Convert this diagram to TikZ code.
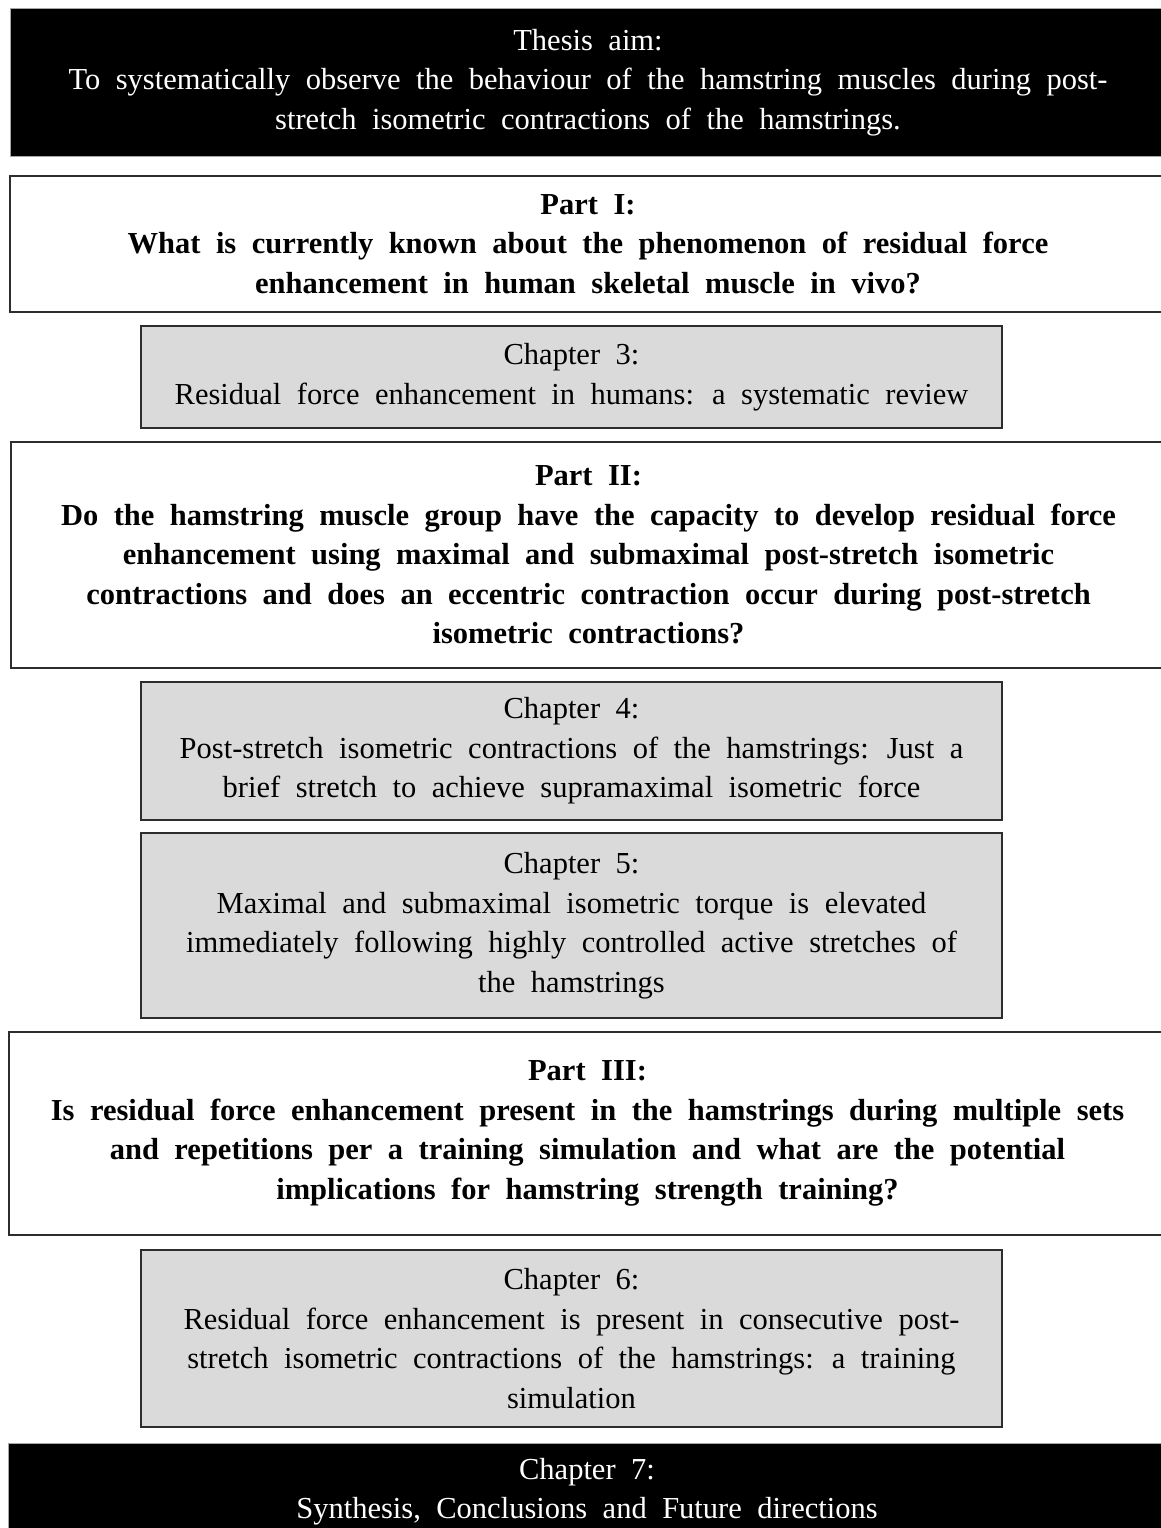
\documentclass[tikz,border=0pt]{standalone}
\usepackage{fontspec}
\setmainfont{Liberation Serif}
\definecolor{greyfill}{RGB}{218,218,218}
\definecolor{edge}{RGB}{45,45,45}
\newcommand{\boxfont}{\fontsize{30.5}{39.5}\selectfont\spaceskip=15.5pt plus 2pt minus 2pt\relax}
\begin{document}
\begin{tikzpicture}[x=1pt,y=-1pt,
  base/.style={rectangle, align=center, inner sep=0pt, outer sep=0pt,
    font=\boxfont},
  darkbox/.style={base, fill=black, draw=gray!70, line width=1pt, text=white},
  partbox/.style={base, fill=white, draw=edge, line width=1.8pt,
    font=\boxfont\bfseries},
  chapbox/.style={base, fill=greyfill, draw=edge, line width=1.8pt},
]
\clip (0,0) rectangle (1161,1528);
\fill[white] (0,0) rectangle (1161,1528);

\node[darkbox, minimum width=1156pt, minimum height=147pt] (aim) at (588,82.5)
  {Thesis aim:\\To systematically observe the behaviour of the hamstring muscles during post-\\stretch isometric contractions of the hamstrings.};

\node[partbox, minimum width=1156pt, minimum height=136pt] (p1) at (588,244)
  {Part I:\\What is currently known about the phenomenon of residual force\\enhancement in human skeletal muscle in vivo?};

\node[chapbox, minimum width=861pt, minimum height=102pt] (c3) at (571.5,377)
  {Chapter 3:\\Residual force enhancement in humans: a systematic review};

\node[partbox, minimum width=1155pt, minimum height=226pt] (p2) at (588.5,555)
  {Part II:\\Do the hamstring muscle group have the capacity to develop residual force\\enhancement using maximal and submaximal post-stretch isometric\\contractions and does an eccentric contraction occur during post-stretch\\isometric contractions?};

\node[chapbox, minimum width=861pt, minimum height=138pt] (c4) at (571.5,751)
  {Chapter 4:\\Post-stretch isometric contractions of the hamstrings: Just a\\brief stretch to achieve supramaximal isometric force};

\node[chapbox, minimum width=861pt, minimum height=185pt] (c5) at (571.5,925.5)
  {Chapter 5:\\Maximal and submaximal isometric torque is elevated\\immediately following highly controlled active stretches of\\the hamstrings};

\node[partbox, minimum width=1157pt, minimum height=203pt] (p3) at (587.5,1133.5)
  {Part III:\\Is residual force enhancement present in the hamstrings during multiple sets\\and repetitions per a training simulation and what are the potential\\implications for hamstring strength training?};

\node[chapbox, minimum width=861pt, minimum height=177pt] (c6) at (571.5,1338.5)
  {Chapter 6:\\Residual force enhancement is present in consecutive post-\\stretch isometric contractions of the hamstrings: a training\\simulation};

\node[darkbox, minimum width=1158pt, minimum height=97pt] (c7) at (587,1491.5)
  {Chapter 7:\\Synthesis, Conclusions and Future directions};
\end{tikzpicture}
\end{document}
